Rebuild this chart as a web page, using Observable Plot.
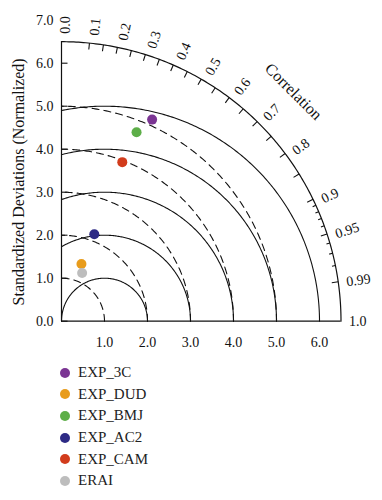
<!DOCTYPE html>
<html><head><meta charset="utf-8">
<script src="https://cdn.jsdelivr.net/npm/d3@7"></script>
<script src="https://cdn.jsdelivr.net/npm/@observablehq/plot@0.6"></script>
<style>
body{margin:0;background:#fff;font-family:"Liberation Serif",serif;}
#legend{padding-top:10px;}
.row{display:flex;align-items:center;height:21.6px;font-size:15px;color:#222;}
.sw{width:10px;height:10px;border-radius:50%;margin-left:60px;margin-right:8px;}
</style></head><body>
<div id="chart"></div><div id="legend"></div>
<script>
// ---- data ----
const models = ["EXP_3C","EXP_DUD","EXP_BMJ","EXP_AC2","EXP_CAM","ERAI"];
const modelColors = ["#7b3593","#e89c1c","#5dae48","#2d2a85","#d23c1c","#bdbdbd"];
const stdDevs = [5.14, 1.41, 4.73, 2.16, 3.96, 1.22];
const correlations = [0.410, 0.329, 0.369, 0.353, 0.357, 0.393];
const stdRadii = [1, 2, 3, 4, 5];          // dashed circles about origin
const rmsRadii = [1, 2, 3, 4, 5];          // solid circles about reference (1,0)
const refStd = 1;
const maxStd = 6.5;
const yTickValues = [0, 1, 2, 3, 4, 5, 6, 7];
const xTickValues = [1, 2, 3, 4, 5, 6];
const corrLabelValues = [0, 0.1, 0.2, 0.3, 0.4, 0.5, 0.6, 0.7, 0.8, 0.9, 0.95, 0.99, 1.0];
const corrMajorTicks = [0.1,0.15,0.2,0.25,0.3,0.35,0.4,0.45,0.5,0.55,0.6,0.65,0.7,0.75,0.8,0.85,0.9,0.95,0.99];
const corrMinorTicks = [0.91,0.92,0.93,0.94,0.96,0.97,0.98];

// ---- geometry helpers ----
const PX = 43; // pixels per std unit
const ox = 61, oy = 320.7;
function arc(cx, r, a0, a1, id) {
  const n = 180, pts = [];
  for (let i = 0; i <= n; i++) {
    const a = a0 + (a1 - a0) * i / n;
    pts.push({x: cx + r * Math.cos(a), y: r * Math.sin(a), id});
  }
  return pts;
}
const stdArcs = stdRadii.flatMap(r => arc(0, r, 0, Math.PI / 2, "s" + r));
const rmsArcs = rmsRadii.flatMap(r => arc(refStd, r, 0, Math.acos(-refStd / r), "r" + r));
const outerArc = arc(0, maxStd, 0, Math.PI / 2, "o");

function tickData(list, lenPx) {
  return list.map(c => {
    const t = Math.acos(c), r2 = maxStd - lenPx / PX;
    return {x1: maxStd * Math.cos(t), y1: maxStd * Math.sin(t), x2: r2 * Math.cos(t), y2: r2 * Math.sin(t)};
  });
}
const fmtCorr = c => (c === 0 || c === 1) ? c.toFixed(1) : String(c);
const corrLabelData = corrLabelValues.map(c => {
  const t = Math.acos(c);
  const rr = maxStd + 8 / PX;
  const off = 4 * Math.min(1, Math.sin(t) / Math.sin(Math.acos(0.9))) / PX;
  return {
    label: fmtCorr(c),
    x: rr * Math.cos(t) + off * Math.sin(t),
    y: rr * Math.sin(t) - off * Math.cos(t),
    rot: -t * 180 / Math.PI
  };
});
const points = models.map((m, i) => ({
  name: m,
  color: modelColors[i],
  x: stdDevs[i] * correlations[i],
  y: stdDevs[i] * Math.sin(Math.acos(correlations[i]))
}));

const font = "Liberation Serif";
const chart = Plot.plot({
  width: 382,
  height: 352,
  style: {fontFamily: font, background: "#fff", color: "#111"},
  x: {domain: [0, 1], range: [ox, ox + PX], axis: null},
  y: {domain: [0, 1], range: [oy, oy - PX], axis: null},
  marks: [
    Plot.line(stdArcs, {x: "x", y: "y", z: "id", stroke: "#111", strokeWidth: 1.1, strokeDasharray: "7,5"}),
    Plot.line(rmsArcs, {x: "x", y: "y", z: "id", stroke: "#111", strokeWidth: 1.1}),
    Plot.line(outerArc, {x: "x", y: "y", stroke: "#111", strokeWidth: 1.2}),
    Plot.ruleX([0], {y1: 0, y2: maxStd, stroke: "#111", strokeWidth: 1.2}),
    Plot.ruleY([0], {x1: 0, x2: maxStd, stroke: "#111", strokeWidth: 1.2}),
    Plot.link(yTickValues.filter(v => v <= maxStd), {x1: 0, x2: 6 / PX, y1: d => d, y2: d => d, stroke: "#111", strokeWidth: 1.1}),
    Plot.link(tickData(corrMajorTicks, 6.5), {x1: "x1", y1: "y1", x2: "x2", y2: "y2", stroke: "#111", strokeWidth: 1.1}),
    Plot.link(tickData(corrMinorTicks, 3.5), {x1: "x1", y1: "y1", x2: "x2", y2: "y2", stroke: "#111", strokeWidth: 1.1}),
    Plot.text(yTickValues, {x: 0, y: d => d, text: d => d.toFixed(1), dx: -8, textAnchor: "end", fontSize: 14, fill: "#111"}),
    Plot.text(xTickValues, {x: d => d, y: 0, text: d => d.toFixed(1), dy: 21, textAnchor: "middle", fontSize: 14, fill: "#111"}),
    Plot.text(corrLabelData, {x: "x", y: "y", text: "label", rotate: "rot", textAnchor: "start", fontSize: 14, fill: "#111"}),
    Plot.text(["Correlation"], {x: 7.59 * Math.cos(44.7 * Math.PI / 180), y: 7.59 * Math.sin(44.7 * Math.PI / 180), rotate: 45, textAnchor: "middle", fontSize: 16, fill: "#111"}),
    Plot.text(["Standardized Deviations (Normalized)"], {x: -0.98, y: 3.24, rotate: -90, textAnchor: "middle", fontSize: 16, fill: "#111"}),
    Plot.dot(points, {x: "x", y: "y", r: 5, fill: "color", stroke: "none"})
  ]
});
document.getElementById("chart").appendChild(chart);

const legend = document.getElementById("legend");
models.forEach((m, i) => {
  const row = document.createElement("div");
  row.className = "row";
  const sw = document.createElement("span");
  sw.className = "sw";
  sw.style.background = modelColors[i];
  const t = document.createElement("span");
  t.textContent = m;
  row.appendChild(sw); row.appendChild(t);
  legend.appendChild(row);
});
</script>
</body></html>
